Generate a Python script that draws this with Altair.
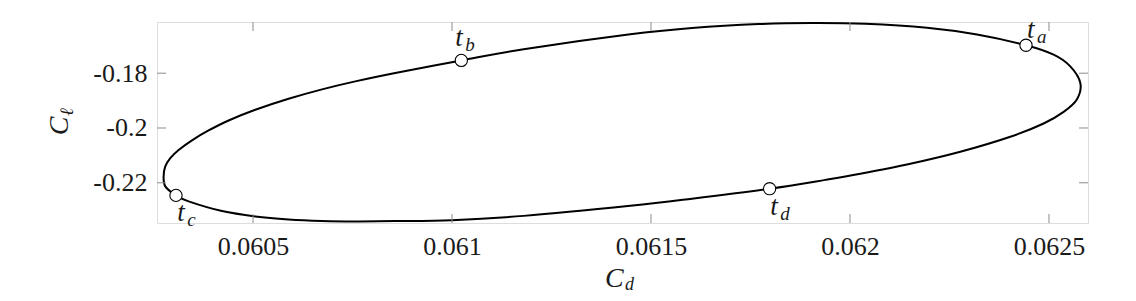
import altair as alt
import pandas as pd

# Limit-cycle curve (C_d, C_l)
cd = [0.0625787, 0.0625535, 0.0625116, 0.0624422, 0.0623191, 0.0621935, 0.0620385,
      0.0619045, 0.0617704, 0.061603, 0.061448, 0.06118, 0.0610234, 0.0608575,
      0.060757, 0.0606734, 0.0605894, 0.0605058, 0.0604387, 0.0603884, 0.0603467,
      0.0603131, 0.0602922, 0.0602796, 0.0602754, 0.0602796, 0.0603065, 0.0603382,
      0.0604221, 0.0605058, 0.0605894, 0.0606734, 0.060757, 0.0608575, 0.0610,
      0.06118, 0.061448, 0.061603, 0.061798, 0.061938, 0.0620259, 0.0621516,
      0.0622772, 0.0624028, 0.0624865, 0.0625367, 0.0625704]
cl = [-0.18358, -0.17752, -0.17325, -0.16981, -0.16589, -0.16343, -0.16197,
      -0.16168, -0.16208, -0.16354, -0.1658, -0.17124, -0.17533, -0.17993,
      -0.18299, -0.18591, -0.18934, -0.19336, -0.19726, -0.20091, -0.20449,
      -0.20803, -0.21102, -0.21402, -0.21767, -0.22132, -0.2246, -0.22679,
      -0.23033, -0.23227, -0.23336, -0.23391, -0.23409, -0.23398, -0.23365,
      -0.23208, -0.2284, -0.22581, -0.22216, -0.21894, -0.21672, -0.21307,
      -0.20869, -0.20321, -0.19836, -0.19412, -0.18949]

# Marked instants
mark_names = ["a", "b", "c", "d"]
mark_cd = [0.0624422, 0.0610234, 0.0603065, 0.061798]
mark_cl = [-0.16981, -0.17533, -0.2246, -0.22216]
# text annotation anchors (data coordinates)
label_cd = [0.0624448, 0.0610083, 0.0603098, 0.0617998]
label_cl = [-0.16715, -0.17022, -0.23384, -0.23165]

x_ticks = [0.0605, 0.061, 0.0615, 0.062, 0.0625]
y_ticks = [-0.22, -0.2, -0.18]
x_domain = [0.0602588, 0.062598]
y_domain = [-0.23468, -0.16131]

W, H = 931, 201
FONT = "Liberation Serif"
TICKC = "#8c8c8c"
TXT = "#1a1a1a"

curve = pd.DataFrame({"cd": cd, "cl": cl, "i": list(range(len(cd)))})
marks = pd.DataFrame({"name": mark_names, "cd": mark_cd, "cl": mark_cl,
                      "lx": label_cd, "ly": label_cl, "t": ["t"] * 4})
xt = pd.DataFrame({"v": x_ticks})
yt = pd.DataFrame({"v": y_ticks})

xs = alt.Scale(domain=x_domain, nice=False, zero=False)
ys = alt.Scale(domain=y_domain, nice=False, zero=False)

label_expr = "datum.value < 0 ? '-' + format(-datum.value, '~g') : format(datum.value, '~g')"

line = alt.Chart(curve).mark_line(
    color="black", strokeWidth=2, interpolate="cardinal-closed", clip=False
).encode(
    x=alt.X("cd:Q", scale=xs, axis=alt.Axis(
        values=x_ticks, title=None, grid=False, ticks=False, tickSize=0, domain=False,
        labelFont=FONT, labelFontSize=26, labelColor=TXT, labelPadding=10,
        labelExpr=label_expr)),
    y=alt.Y("cl:Q", scale=ys, axis=alt.Axis(
        values=y_ticks, title=None, grid=False, ticks=False, tickSize=0, domain=False,
        labelFont=FONT, labelFontSize=26, labelColor=TXT, labelPadding=10,
        labelExpr=label_expr)),
    order="i:Q",
)

# inward ticks on all four sides
tb = alt.Chart(xt).mark_rule(color=TICKC, strokeWidth=1).encode(
    x=alt.X("v:Q", scale=xs), y=alt.value(H), y2=alt.value(H - 9))
tt = alt.Chart(xt).mark_rule(color=TICKC, strokeWidth=1).encode(
    x=alt.X("v:Q", scale=xs), y=alt.value(0), y2=alt.value(9))
tl = alt.Chart(yt).mark_rule(color=TICKC, strokeWidth=1).encode(
    y=alt.Y("v:Q", scale=ys), x=alt.value(0), x2=alt.value(9))
tr = alt.Chart(yt).mark_rule(color=TICKC, strokeWidth=1).encode(
    y=alt.Y("v:Q", scale=ys), x=alt.value(W), x2=alt.value(W - 9))

pts = alt.Chart(marks).mark_point(
    shape="circle", filled=True, fill="white", stroke="black", strokeWidth=1.1,
    size=150, opacity=1
).encode(x=alt.X("cd:Q", scale=xs), y=alt.Y("cl:Q", scale=ys))

tlab = alt.Chart(marks).mark_text(
    font=FONT, fontStyle="italic", fontSize=27, align="left", baseline="alphabetic",
    color=TXT
).encode(x=alt.X("lx:Q", scale=xs), y=alt.Y("ly:Q", scale=ys), text="t:N")
slab = alt.Chart(marks).mark_text(
    font=FONT, fontStyle="italic", fontSize=19, align="left", baseline="alphabetic",
    color=TXT, dx=10, dy=5
).encode(x=alt.X("lx:Q", scale=xs), y=alt.Y("ly:Q", scale=ys), text="name:N")

one = pd.DataFrame({"k": [0]})
xtitle_c = alt.Chart(one).mark_text(
    font=FONT, fontStyle="italic", fontSize=28, align="left", baseline="alphabetic",
    color=TXT).encode(x=alt.value(448), y=alt.value(265), text=alt.value("C"))
xtitle_s = alt.Chart(one).mark_text(
    font=FONT, fontStyle="italic", fontSize=18, align="left", baseline="alphabetic",
    color=TXT).encode(x=alt.value(468), y=alt.value(268), text=alt.value("d"))
ytitle_c = alt.Chart(one).mark_text(
    font=FONT, fontStyle="italic", fontSize=28, align="center", baseline="alphabetic",
    angle=270, color=TXT).encode(x=alt.value(-89), y=alt.value(104), text=alt.value("C"))
ytitle_s = alt.Chart(one).mark_text(
    font=FONT, fontStyle="italic", fontSize=19, align="center", baseline="alphabetic",
    angle=270, color=TXT).encode(x=alt.value(-84), y=alt.value(90), text=alt.value("ℓ"))

chart = alt.layer(
    line, tb, tt, tl, tr, pts, tlab, slab, xtitle_c, xtitle_s, ytitle_c, ytitle_s
).properties(
    width=W, height=H,
    autosize=alt.AutoSizeParams(type="none"),
    padding={"left": 149, "top": 14, "right": 40, "bottom": 70},
).configure_view(
    stroke=TICKC, strokeWidth=1
).configure(background="white")

chart.save("out.html", embed_options={"renderer": "svg", "actions": False})
